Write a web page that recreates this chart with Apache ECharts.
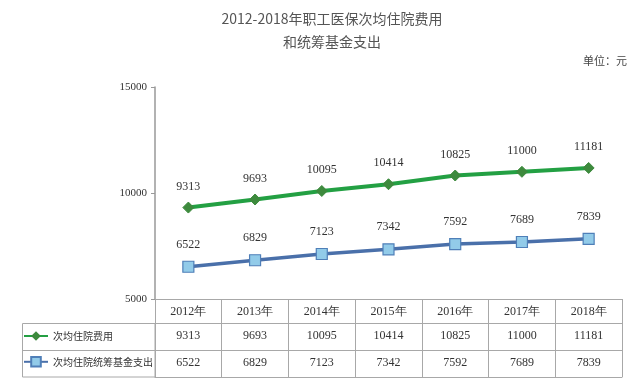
<!DOCTYPE html>
<html><head><meta charset="utf-8">
<script src="https://cdn.jsdelivr.net/npm/echarts@6/dist/echarts.min.js"></script>
<style>html,body{margin:0;padding:0;background:#fff}#c{width:640px;height:381px}</style>
</head><body><div id="c"></div>
<script>
var years = ['2012年','2013年','2014年','2015年','2016年','2017年','2018年'];
var costAvg = [9313, 9693, 10095, 10414, 10825, 11000, 11181];
var fundAvg = [6522, 6829, 7123, 7342, 7592, 7689, 7839];
var seriesNames = ['次均住院费用', '次均住院统筹基金支出'];
var yTicks = {min: 5000, max: 15000, interval: 5000};

var serif = '"Liberation Serif","DejaVu Serif",serif';
var cjk = '"Noto Sans CJK SC","Noto Sans",sans-serif';
var border = '#a8a8a8';
var chart = echarts.init(document.getElementById('c'));

function tableAxis(data, offset, showTick) {
  return {
    type: 'category', data: data, position: 'bottom', offset: offset,
    axisLine: {show: true, lineStyle: {color: border, width: 1}},
    axisTick: {show: !!showTick, length: 78, lineStyle: {color: border}},
    axisLabel: {show: true, margin: 7, fontFamily: serif, fontSize: 12, color: '#333'},
    splitLine: {show: false}
  };
}

chart.setOption({
  animation: false,
  title: [
    {text: '2012-2018年职工医保次均住院费用\n和统筹基金支出', left: 327, top: 2, textAlign: 'center',
     textStyle: {fontFamily: cjk, fontSize: 14, fontWeight: 'normal', color: '#555', lineHeight: 23}},
    {text: '单位：元', right: 8, top: 50,
     textStyle: {fontFamily: cjk, fontSize: 11, fontWeight: 'normal', color: '#444'}}
  ],
  grid: {left: 155, right: 18, top: 87, bottom: 82, containLabel: false},
  legend: {
    orient: 'vertical', left: 23, top: 331, padding: 0, itemGap: 15, itemWidth: 24, itemHeight: 12,
    data: seriesNames,
    textStyle: {fontFamily: cjk, fontSize: 10, color: '#333'}
  },
  xAxis: [
    tableAxis(years, 0, true),
    tableAxis(costAvg.map(String), 24, false),
    tableAxis(fundAvg.map(String), 51, false),
    Object.assign(tableAxis([], 78, false), {axisLabel: {show: false}})
  ],
  yAxis: {
    type: 'value', min: yTicks.min, max: yTicks.max, interval: yTicks.interval,
    axisLine: {show: true, lineStyle: {color: '#999', width: 1.5}},
    axisTick: {show: true, length: 4, lineStyle: {color: '#999'}},
    axisLabel: {fontFamily: serif, fontSize: 11, color: '#333', margin: 8,
                formatter: function (v) { return String(v); }},
    splitLine: {show: false}
  },
  series: [
    {name: seriesNames[0], type: 'line', xAxisIndex: 0, data: costAvg,
     symbol: 'diamond', symbolSize: 11,
     lineStyle: {color: '#23a043', width: 4},
     itemStyle: {color: '#3d8a3d', borderColor: '#3d8a3d'},
     label: {show: true, position: 'top', distance: 9, fontFamily: serif, fontSize: 12, color: '#333'}},
    {name: seriesNames[1], type: 'line', xAxisIndex: 0, data: fundAvg,
     symbol: 'rect', symbolSize: 11,
     lineStyle: {color: '#4a70aa', width: 3.5},
     itemStyle: {color: '#92cbe9', borderColor: '#4f7fb8', borderWidth: 1.2},
     label: {show: true, position: 'top', distance: 10, fontFamily: serif, fontSize: 12, color: '#333'}}
  ],
  graphic: [
    {type: 'rect', shape: {x: 22.5, y: 323.5, width: 132.5, height: 53.5},
     style: {fill: 'none', stroke: border, lineWidth: 1}, silent: true},
    {type: 'line', shape: {x1: 22.5, y1: 350.5, x2: 155, y2: 350.5},
     style: {stroke: border, lineWidth: 1}, silent: true}
  ]
});
</script></body></html>
